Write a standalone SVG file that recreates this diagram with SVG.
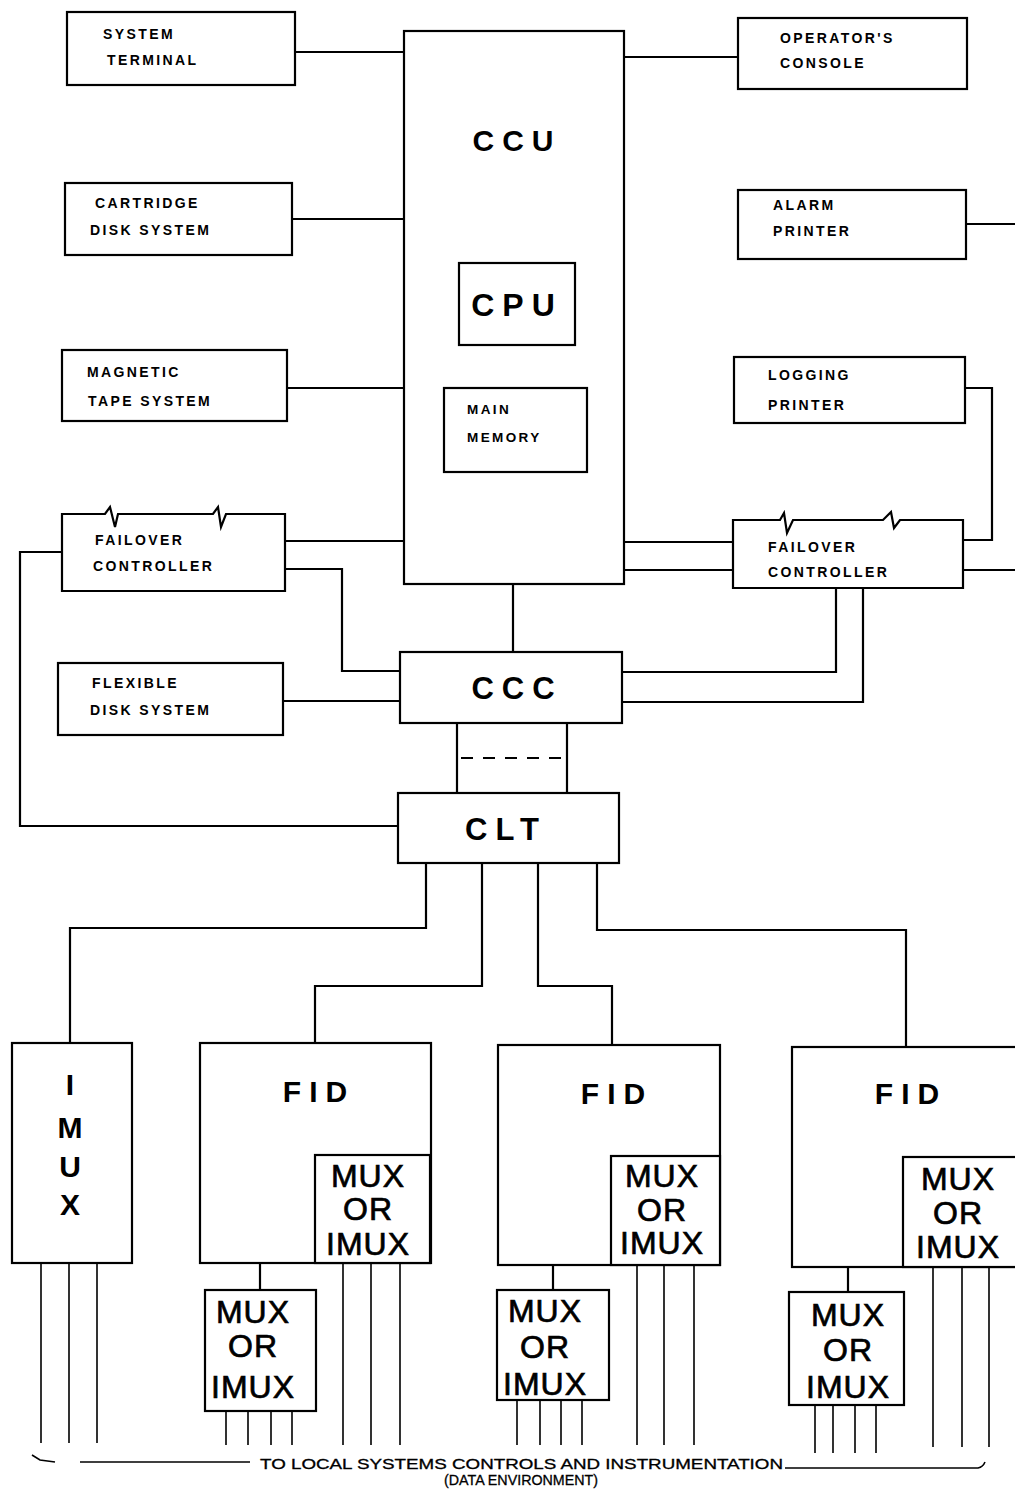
<svg xmlns="http://www.w3.org/2000/svg" width="1015" height="1499" viewBox="0 0 1015 1499">
<style>
.box{fill:#fff;stroke:#000;stroke-width:2.2}
.ln{fill:none;stroke:#000;stroke-width:2.2}
.th{fill:none;stroke:#000;stroke-width:1.6}
.dash{fill:none;stroke:#000;stroke-width:2.2;stroke-dasharray:12 10}
text{font-family:"Liberation Sans",Arial,sans-serif;fill:#000}
.lbl{font-size:14px;font-weight:bold;letter-spacing:2.4px}
.big{font-size:30px;font-weight:bold;letter-spacing:8px;text-anchor:middle}
.mux{font-size:32px;text-anchor:middle;letter-spacing:1px;stroke:#000;stroke-width:0.7}
.foot{font-size:14px;stroke:#000;stroke-width:0.3}
</style>
<rect width="1015" height="1499" fill="#fff"/>
<g id="connectors">
<path class="ln" d="M295,52H404M292,219H404M287,388H404"/>
<path class="ln" d="M624,57H738M966,224H1015"/>
<path class="ln" d="M965,388H992V540H963M963,570H1015"/>
<path class="ln" d="M624,542H733M624,570H733"/>
<path class="ln" d="M836,588V672H622M863,588V702H622"/>
<path class="ln" d="M285,541H404M285,569H342V671H400M283,701H400"/>
<path class="ln" d="M62,552H20V826H398"/>
<path class="ln" d="M513,584V652M457,723V793M567,723V793"/>
<path class="dash" d="M461,758H563"/>
<path class="ln" d="M426,863V928H70V1043M482,863V986H315V1043M538,863V986H612V1045M597,863V930H906V1047"/>
<path class="ln" d="M260,1263V1290M553,1265V1290M848,1267V1292"/>
<path class="th" d="M41,1263V1443M69,1263V1443M97,1263V1443"/>
<path class="th" d="M343,1263V1445M371,1263V1445M400,1263V1445"/>
<path class="th" d="M226,1411V1445M248,1411V1445M271,1411V1445M292,1411V1445"/>
<path class="th" d="M637,1265V1445M664,1265V1445M694,1265V1445"/>
<path class="th" d="M517,1400V1445M540,1400V1445M561,1400V1445M582,1400V1445"/>
<path class="th" d="M933,1267V1447M962,1267V1447M989,1267V1447"/>
<path class="th" d="M815,1405V1453M833,1405V1453M855,1405V1453M876,1405V1453"/>
<path class="th" d="M32,1455L40,1460L55,1462M80,1462H250M785,1468H978Q983,1467 985,1462"/>
</g>
<g id="system-terminal"><rect class="box" x="67" y="12" width="228" height="73"/><text class="lbl" x="103" y="39">SYSTEM</text><text class="lbl" x="107" y="65">TERMINAL</text></g>
<g id="cartridge-disk"><rect class="box" x="65" y="183" width="227" height="72"/><text class="lbl" x="95" y="208">CARTRIDGE</text><text class="lbl" x="90" y="235">DISK SYSTEM</text></g>
<g id="magnetic-tape"><rect class="box" x="62" y="350" width="225" height="71"/><text class="lbl" x="87" y="377">MAGNETIC</text><text class="lbl" x="88" y="406">TAPE SYSTEM</text></g>
<g id="ccu"><rect class="box" x="404" y="31" width="220" height="553"/><text class="big" x="517" y="151">CCU</text></g>
<g id="cpu"><rect class="box" x="459" y="263" width="116" height="82"/><text class="big" x="517" y="316" style="font-size:32px">CPU</text></g>
<g id="main-memory"><rect class="box" x="444" y="388" width="143" height="84"/><text class="lbl" x="467" y="414" style="font-size:13.5px">MAIN</text><text class="lbl" x="467" y="442" style="font-size:13.5px">MEMORY</text></g>
<g id="operators-console"><rect class="box" x="738" y="18" width="229" height="71"/><text class="lbl" x="780" y="43">OPERATOR'S</text><text class="lbl" x="780" y="68">CONSOLE</text></g>
<g id="alarm-printer"><rect class="box" x="738" y="190" width="228" height="69"/><text class="lbl" x="773" y="210">ALARM</text><text class="lbl" x="773" y="236">PRINTER</text></g>
<g id="logging-printer"><rect class="box" x="734" y="357" width="231" height="66"/><text class="lbl" x="768" y="380">LOGGING</text><text class="lbl" x="768" y="410">PRINTER</text></g>
<g id="failover-left"><path class="box" d="M62,514H105L110,507L115,527L118,514H213L218,507L221,527L226,514H285V591H62Z"/><text class="lbl" x="95" y="545">FAILOVER</text><text class="lbl" x="93" y="571">CONTROLLER</text></g>
<g id="failover-right"><path class="box" d="M733,520H780L784,513L787,533L793,520H883L891,512L894,528L900,520H963V588H733Z"/><text class="lbl" x="768" y="552">FAILOVER</text><text class="lbl" x="768" y="577">CONTROLLER</text></g>
<g id="flexible-disk"><rect class="box" x="58" y="663" width="225" height="72"/><text class="lbl" x="92" y="688">FLEXIBLE</text><text class="lbl" x="90" y="715">DISK SYSTEM</text></g>
<g id="ccc"><rect class="box" x="400" y="652" width="222" height="71"/><text class="big" x="517" y="699" style="font-size:31px">CCC</text></g>
<g id="clt"><rect class="box" x="398" y="793" width="221" height="70"/><text class="big" x="506" y="840" style="font-size:31px">CLT</text></g>
<g id="imux"><rect class="box" x="12" y="1043" width="120" height="220"/><text class="big" x="70" y="1095" style="letter-spacing:0">I</text><text class="big" x="70" y="1138" style="letter-spacing:0">M</text><text class="big" x="70" y="1177" style="letter-spacing:0">U</text><text class="big" x="70" y="1215" style="letter-spacing:0">X</text></g>
<g id="fid-1"><rect class="box" x="200" y="1043" width="231" height="220"/><text class="big" x="319" y="1102">FID</text><rect class="box" x="315" y="1155" width="115" height="108"/><text class="mux" x="368" y="1187">MUX</text><text class="mux" x="368" y="1220">OR</text><text class="mux" x="368" y="1255">IMUX</text></g>
<g id="mux-1"><rect class="box" x="205" y="1290" width="111" height="121"/><text class="mux" x="253" y="1323">MUX</text><text class="mux" x="253" y="1357">OR</text><text class="mux" x="253" y="1398">IMUX</text></g>
<g id="fid-2"><rect class="box" x="498" y="1045" width="222" height="220"/><text class="big" x="617" y="1104">FID</text><rect class="box" x="611" y="1156" width="109" height="109"/><text class="mux" x="662" y="1187">MUX</text><text class="mux" x="662" y="1221">OR</text><text class="mux" x="662" y="1254">IMUX</text></g>
<g id="mux-2"><rect class="box" x="497" y="1290" width="112" height="110"/><text class="mux" x="545" y="1322">MUX</text><text class="mux" x="545" y="1358">OR</text><text class="mux" x="545" y="1395">IMUX</text></g>
<g id="fid-3"><rect class="box" x="792" y="1047" width="230" height="220"/><text class="big" x="911" y="1104">FID</text><rect class="box" x="903" y="1157" width="119" height="110"/><text class="mux" x="958" y="1190">MUX</text><text class="mux" x="958" y="1224">OR</text><text class="mux" x="958" y="1258">IMUX</text></g>
<g id="mux-3"><rect class="box" x="789" y="1292" width="115" height="113"/><text class="mux" x="848" y="1326">MUX</text><text class="mux" x="848" y="1361">OR</text><text class="mux" x="848" y="1398">IMUX</text></g>
<g id="footer"><text class="foot" x="260" y="1469" textLength="523" lengthAdjust="spacingAndGlyphs">TO LOCAL SYSTEMS CONTROLS AND INSTRUMENTATION</text><text class="foot" x="444" y="1485" textLength="154" lengthAdjust="spacingAndGlyphs">(DATA ENVIRONMENT)</text></g>
</svg>
